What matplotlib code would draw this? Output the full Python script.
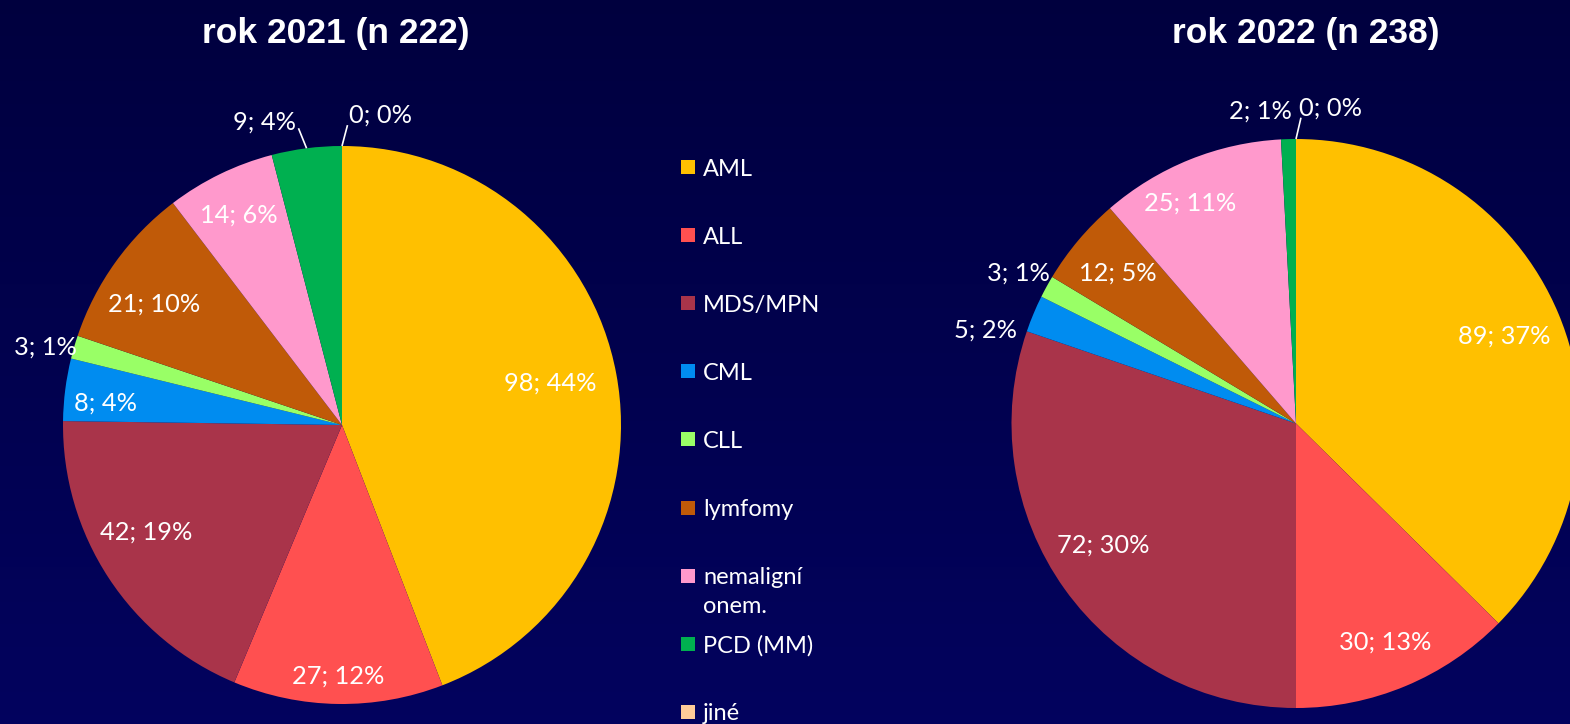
import numpy as np
import matplotlib.pyplot as plt
from matplotlib.patches import Rectangle

# data
categories = ['AML', 'ALL', 'MDS/MPN', 'CML', 'CLL', 'lymfomy',
              'nemaligní\nonem.', 'PCD (MM)', 'jiné']
colors = ['#FFC000', '#FF5050', '#A9344A', '#008CF0', '#99FF66',
          '#C05A08', '#FF99CC', '#00B050', '#FFCC99']

counts_2021 = [98, 27, 42, 8, 3, 21, 14, 9, 0]
pct_2021 = [44, 12, 19, 4, 1, 10, 6, 4, 0]
counts_2022 = [89, 30, 72, 5, 3, 12, 25, 2, 0]
pct_2022 = [37, 13, 30, 2, 1, 5, 11, 1, 0]

titles = ['rok 2021 (n 222)', 'rok 2022 (n 238)']

# label placement (fraction of radius, angle nudge in degrees, leader line)
lab_r_2021 = [0.76, 0.90, 0.80, 0.85, 1.10, 0.80, 0.84, 1.12, 1.12]
nudge_2021 = [1, 0, -4.7, 2, 1.5, 2.8, 0.3, 7, -7]
leader_2021 = [False] * 7 + [True, True]

lab_r_2022 = [0.795, 0.83, 0.80, 1.14, 1.11, 0.82, 0.86, 1.105, 1.115]
nudge_2022 = [0, -0.6, -3.3, 6, 0.2, 0, 3.7, 5, -6.2]
leader_2022 = [False] * 8 + [True]

W, H = 1570, 724
LABEL_FONT = 'Lato'

fig = plt.figure(figsize=(W / 100, H / 100), dpi=100)

# background gradient
bg = fig.add_axes([0, 0, 1, 1])
grad = np.linspace(0, 1, 256).reshape(-1, 1)
top = np.array([0.0, 0.0, 0.245])
bot = np.array([0.01, 0.01, 0.37])
img = top + grad[..., None] * (bot - top)
bg.imshow(img, aspect='auto', extent=[0, 1, 0, 1], origin='upper')
bg.axis('off')

ax = fig.add_axes([0, 0, 1, 1])
ax.patch.set_alpha(0)


def draw_pie(cx, cy_top, R, counts, pct, lab_r, nudge, leader):
    cy = H - cy_top
    wedges, _ = ax.pie(counts, colors=colors, startangle=90, counterclock=False,
                       center=(cx, cy), radius=R, frame=True,
                       wedgeprops=dict(linewidth=0))
    for i, w in enumerate(wedges):
        mid = (w.theta1 + w.theta2) / 2
        a = np.radians(mid + nudge[i])
        tx = cx + lab_r[i] * R * np.cos(a)
        ty = cy + lab_r[i] * R * np.sin(a)
        ax.text(tx, ty, f'{counts[i]}; {pct[i]}%', ha='center', va='center',
                color='white', fontsize=18.3, family=LABEL_FONT)
        if leader[i]:
            m = np.radians(mid)
            e = np.radians(mid + nudge[i] * 0.15)
            ax.plot([cx + R * np.cos(m), cx + 1.075 * R * np.cos(e)],
                    [cy + R * np.sin(m), cy + 1.075 * R * np.sin(e)],
                    color='white', lw=1.2, solid_capstyle='butt')


draw_pie(342, 425, 279, counts_2021, pct_2021, lab_r_2021, nudge_2021, leader_2021)
draw_pie(1296, 423.5, 284.5, counts_2022, pct_2022, lab_r_2022, nudge_2022, leader_2022)

# titles
for t, x in zip(titles, [336, 1306]):
    ax.text(x, H - 43, t, ha='center', va='baseline', color='white',
            fontsize=25.5, fontweight='bold', family='Liberation Sans')

# legend
for i, (name, c) in enumerate(zip(categories, colors)):
    yc = H - (167 + 68.1 * i)
    ax.add_patch(Rectangle((681, yc - 7), 14, 14, color=c, lw=0))
    for j, line in enumerate(name.split('\n')):
        ax.text(703, yc - 8.5 - 29 * j, line, ha='left', va='baseline',
                color='white', fontsize=17, family=LABEL_FONT)

ax.set_xlim(0, W)
ax.set_ylim(0, H)
ax.axis('off')

fig.savefig('out.png', dpi=100)
